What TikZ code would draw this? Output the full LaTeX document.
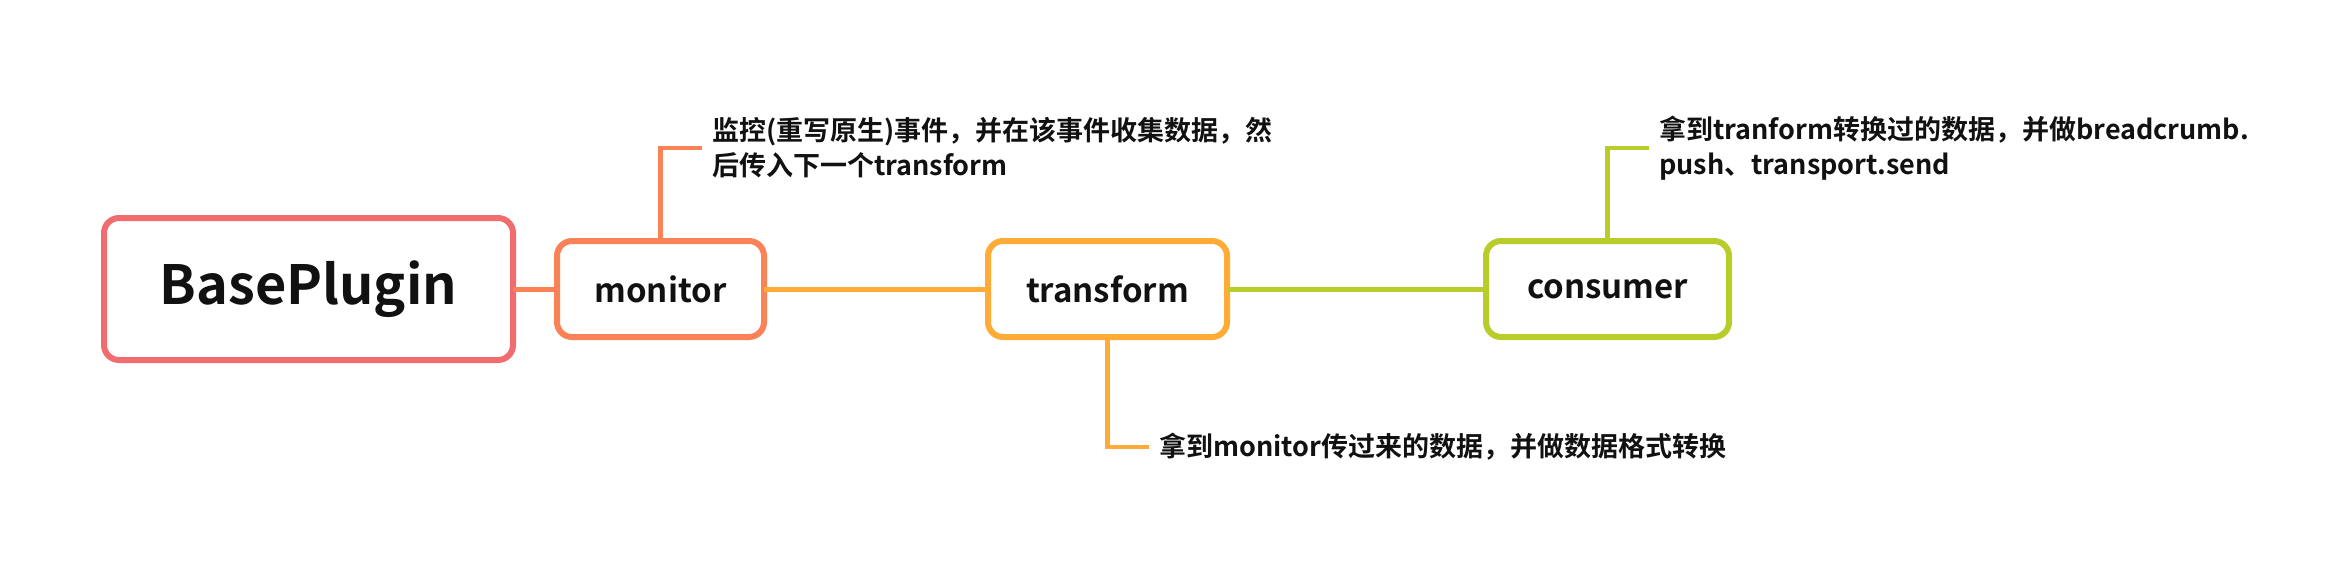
\documentclass[tikz,border=0pt]{standalone}
\usepackage{fontspec}
\setmainfont{Noto Sans CJK SC}[BoldFont={Noto Sans CJK SC Bold}]
\newfontfamily\notefont{Noto Sans CJK SC Bold}
\usepackage{tikz}
\usetikzlibrary{positioning}
\definecolor{ink}{HTML}{111111}
\definecolor{cbase}{HTML}{F06C6F}
\definecolor{cmon}{HTML}{FA8256}
\definecolor{ctrans}{HTML}{FFAB36}
\definecolor{ccons}{HTML}{B8CC2A}
\tikzset{
  rootbox/.style={rounded corners=15pt, draw=cbase, line width=6pt, fill=white, outer sep=0pt, minimum width=409pt, minimum height=142pt, font=\fontsize{54}{58}\selectfont\bfseries, text=ink},
  stagebox/.style={rounded corners=15pt, line width=6pt, fill=white, outer sep=0pt, minimum height=96pt, font=\fontsize{33}{37}\selectfont\bfseries, text=ink},
  note/.style={anchor=west, inner xsep=10pt, inner ysep=0pt, align=left, font=\notefont\fontsize{27}{35}\selectfont, text=ink},
  link/.style={line width=5pt},
  leg/.style={line width=4.5pt},
}

\begin{document}
\begin{tikzpicture}[x=1pt, y=-1pt]
  \useasboundingbox (0,0) rectangle (2348,578);
  \node[rootbox](base) at (308.5,289){BasePlugin};
  \node[stagebox,draw=cmon,minimum width=207pt,right=44pt of base](monitor){monitor};
  \node[stagebox,draw=ctrans,minimum width=239pt,right=224pt of monitor](transform){transform};
  \node[stagebox,draw=ccons,minimum width=243pt,right=259pt of transform](consumer){consumer};
  \foreach \a/\b/\c in {base/monitor/cmon,monitor/transform/ctrans,transform/consumer/ccons}{\draw[link,draw=\c](\a.east)--(\b.west);}
  % notes
  \node[note](mnote) at (702,148){监控(重写原生)事件，并在该事件收集数据，然\\后传入下一个transform};
  \node[note](tnote) at (1149,447){拿到monitor传过来的数据，并做数据格式转换};
  \node[note](cnote) at (1649,148){拿到tranform转换过的数据，并做breadcrumb.\\push、transport.send};
  \draw[leg,draw=cmon](monitor.north) |- (mnote.west);
  \draw[leg,draw=ctrans](transform.south) |- (tnote.west);
  \draw[leg,draw=ccons](consumer.north) |- (cnote.west);
\end{tikzpicture}
\end{document}
